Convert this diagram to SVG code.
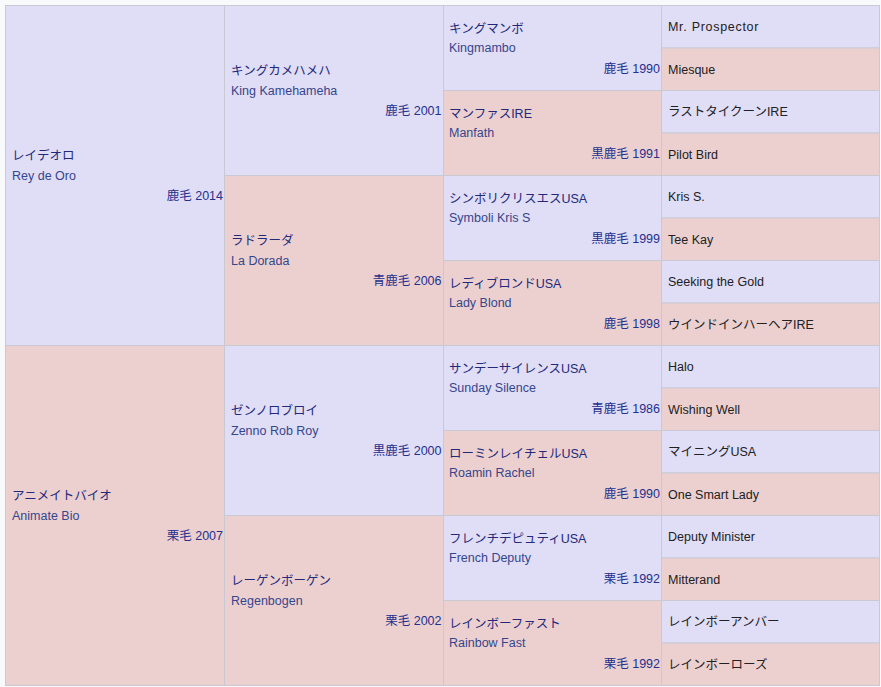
<svg xmlns="http://www.w3.org/2000/svg" width="881" height="687" viewBox="0 0 881 687">
<style>
text{font-family:"Liberation Sans","Noto Sans CJK JP",sans-serif;font-size:12.5px}
.m{fill:#e0ddf6;stroke:#c9c9d3;stroke-width:1}
.f{fill:#ecd0d0;stroke:#c9c9d3;stroke-width:1}
.jp{fill:#22297a}
.en{fill:#36468c}
.cy{fill:#24308e;text-anchor:end}
.an{fill:#202122}
</style>
<rect x="0" y="0" width="881" height="687" fill="#f8f9fa"/>
<g id="gen1">
<g id="n-reydeoro"><rect class="m" x="5.5" y="5.5" width="219" height="340"/><text class="jp" x="12" y="160">レイデオロ</text><text class="en" x="12" y="179.5">Rey de Oro</text><text class="cy" x="223" y="200">鹿毛 2014</text></g>
<g id="n-animatebio"><rect class="f" x="5.5" y="345.5" width="219" height="340"/><text class="jp" x="12" y="500">アニメイトバイオ</text><text class="en" x="12" y="519.5">Animate Bio</text><text class="cy" x="223" y="540">栗毛 2007</text></g>
</g>
<g id="gen2">
<g id="n-kingkamehameha"><rect class="m" x="224.5" y="5.5" width="219" height="170"/><text class="jp" x="231" y="75">キングカメハメハ</text><text class="en" x="231" y="94.5">King Kamehameha</text><text class="cy" x="441.5" y="115">鹿毛 2001</text></g>
<g id="n-ladorada"><rect class="f" x="224.5" y="175.5" width="219" height="170"/><text class="jp" x="231" y="245">ラドラーダ</text><text class="en" x="231" y="264.5">La Dorada</text><text class="cy" x="441.5" y="285">青鹿毛 2006</text></g>
<g id="n-zennorobroy"><rect class="m" x="224.5" y="345.5" width="219" height="170"/><text class="jp" x="231" y="415">ゼンノロブロイ</text><text class="en" x="231" y="434.5">Zenno Rob Roy</text><text class="cy" x="441.5" y="455">黒鹿毛 2000</text></g>
<g id="n-regenbogen"><rect class="f" x="224.5" y="515.5" width="219" height="170"/><text class="jp" x="231" y="585">レーゲンボーゲン</text><text class="en" x="231" y="604.5">Regenbogen</text><text class="cy" x="441.5" y="625">栗毛 2002</text></g>
</g>
<g id="gen3">
<g id="n-kingmambo"><rect class="m" x="443.5" y="5.5" width="218" height="85"/><text class="jp" x="449" y="33">キングマンボ</text><text class="en" x="449" y="52">Kingmambo</text><text class="cy" x="660" y="72.5">鹿毛 1990</text></g>
<g id="n-manfath"><rect class="f" x="443.5" y="90.5" width="218" height="85"/><text class="jp" x="449" y="118">マンファスIRE</text><text class="en" x="449" y="137">Manfath</text><text class="cy" x="660" y="157.5">黒鹿毛 1991</text></g>
<g id="n-symbolikriss"><rect class="m" x="443.5" y="175.5" width="218" height="85"/><text class="jp" x="449" y="203">シンボリクリスエスUSA</text><text class="en" x="449" y="222">Symboli Kris S</text><text class="cy" x="660" y="242.5">黒鹿毛 1999</text></g>
<g id="n-ladyblond"><rect class="f" x="443.5" y="260.5" width="218" height="85"/><text class="jp" x="449" y="288">レディブロンドUSA</text><text class="en" x="449" y="307">Lady Blond</text><text class="cy" x="660" y="327.5">鹿毛 1998</text></g>
<g id="n-sundaysilence"><rect class="m" x="443.5" y="345.5" width="218" height="85"/><text class="jp" x="449" y="373">サンデーサイレンスUSA</text><text class="en" x="449" y="392">Sunday Silence</text><text class="cy" x="660" y="412.5">青鹿毛 1986</text></g>
<g id="n-roaminrachel"><rect class="f" x="443.5" y="430.5" width="218" height="85"/><text class="jp" x="449" y="458">ローミンレイチェルUSA</text><text class="en" x="449" y="477">Roamin Rachel</text><text class="cy" x="660" y="497.5">鹿毛 1990</text></g>
<g id="n-frenchdeputy"><rect class="m" x="443.5" y="515.5" width="218" height="85"/><text class="jp" x="449" y="543">フレンチデピュティUSA</text><text class="en" x="449" y="562">French Deputy</text><text class="cy" x="660" y="582.5">栗毛 1992</text></g>
<g id="n-rainbowfast"><rect class="f" x="443.5" y="600.5" width="218" height="85"/><text class="jp" x="449" y="628">レインボーファスト</text><text class="en" x="449" y="647">Rainbow Fast</text><text class="cy" x="660" y="667.5">栗毛 1992</text></g>
</g>
<g id="gen4">
<g id="n-mrprospector"><rect class="m" x="661.5" y="5.5" width="218" height="42.5"/><text class="an" x="668" y="31" letter-spacing="0.7">Mr. Prospector</text></g>
<g id="n-miesque"><rect class="f" x="661.5" y="48" width="218" height="42.5"/><text class="an" x="668" y="74">Miesque</text></g>
<g id="n-lasttycoon"><rect class="m" x="661.5" y="90.5" width="218" height="42.5"/><text class="an" x="668" y="116">ラストタイクーンIRE</text></g>
<g id="n-pilotbird"><rect class="f" x="661.5" y="133" width="218" height="42.5"/><text class="an" x="668" y="159">Pilot Bird</text></g>
<g id="n-kriss"><rect class="m" x="661.5" y="175.5" width="218" height="42.5"/><text class="an" x="668" y="201">Kris S.</text></g>
<g id="n-teekay"><rect class="f" x="661.5" y="218" width="218" height="42.5"/><text class="an" x="668" y="244">Tee Kay</text></g>
<g id="n-seekingthegold"><rect class="m" x="661.5" y="260.5" width="218" height="42.5"/><text class="an" x="668" y="286">Seeking the Gold</text></g>
<g id="n-windinherhair"><rect class="f" x="661.5" y="303" width="218" height="42.5"/><text class="an" x="668" y="329">ウインドインハーヘアIRE</text></g>
<g id="n-halo"><rect class="m" x="661.5" y="345.5" width="218" height="42.5"/><text class="an" x="668" y="371">Halo</text></g>
<g id="n-wishingwell"><rect class="f" x="661.5" y="388" width="218" height="42.5"/><text class="an" x="668" y="414">Wishing Well</text></g>
<g id="n-mining"><rect class="m" x="661.5" y="430.5" width="218" height="42.5"/><text class="an" x="668" y="456">マイニングUSA</text></g>
<g id="n-onesmartlady"><rect class="f" x="661.5" y="473" width="218" height="42.5"/><text class="an" x="668" y="499">One Smart Lady</text></g>
<g id="n-deputyminister"><rect class="m" x="661.5" y="515.5" width="218" height="42.5"/><text class="an" x="668" y="541">Deputy Minister</text></g>
<g id="n-mitterand"><rect class="f" x="661.5" y="558" width="218" height="42.5"/><text class="an" x="668" y="584">Mitterand</text></g>
<g id="n-rainbowamber"><rect class="m" x="661.5" y="600.5" width="218" height="42.5"/><text class="an" x="668" y="626">レインボーアンバー</text></g>
<g id="n-rainbowrose"><rect class="f" x="661.5" y="643" width="218" height="42.5"/><text class="an" x="668" y="669">レインボーローズ</text></g>
</g>
</svg>
